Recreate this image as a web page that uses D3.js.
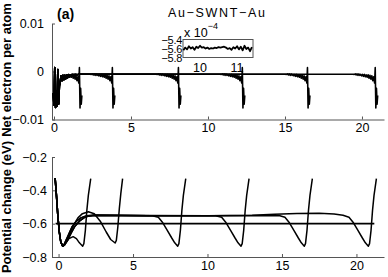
<!DOCTYPE html>
<html>
<head>
<meta charset="utf-8">
<script src="https://cdn.jsdelivr.net/npm/d3@7"></script>
<style>
  body { margin: 0; background: #fff; }
  text { font-family: "Liberation Sans", Arial, sans-serif; fill: #000; }
  .axis path, .axis line { stroke: #555; }
  .axis text { font-size: 12.5px; fill: #000; }
</style>
</head>
<body>
<div class="chart"></div>
<script>
// ---- data ----
// top panel: net electron per atom, shared edge profiles + tube end positions
const chargeEnds = [1.69, 3.83, 8.12, 12.27, 16.5, 20.9];
const chargePlateau = -5.6e-4;
const chargeLeft = [[-0.05, -0.0045], [0.0, -0.0070], [0.05, 0.0008], [0.1, -0.0075], [0.15, -0.0040],
  [0.2, -0.0072], [0.25, 0.0004], [0.3, -0.0068], [0.35, -0.0030], [0.4, -0.0022], [0.46, -0.0009],
  [0.52, -0.0019], [0.58, -0.0008], [0.64, -0.0017], [0.7, -0.0008], [0.76, -0.0015], [0.82, -0.0007],
  [0.88, -0.0013], [0.94, -0.0007], [1.0, -0.0012], [1.06, -0.0007], [1.12, -0.0010], [1.18, -0.0006],
  [1.24, -0.0009], [1.3, -0.0006], [1.36, -0.0008], [1.42, -0.0006], [1.5, -0.0007], [1.6, -0.00056]];
// dx relative to tube end
const chargeRight = [[-1.5, -0.00056], [-1.4, -0.0006], [-1.34, -0.0005], [-1.28, -0.0007], [-1.22, -0.0005],
  [-1.16, -0.0008], [-1.1, -0.0005], [-1.04, -0.0008], [-0.98, -0.0006], [-0.92, -0.0009], [-0.86, -0.0006],
  [-0.8, -0.0010], [-0.74, -0.0006], [-0.68, -0.0011], [-0.62, -0.0007], [-0.56, -0.0012], [-0.5, -0.0007],
  [-0.44, -0.0014], [-0.38, -0.0008], [-0.32, -0.0016], [-0.26, -0.0009], [-0.2, -0.0019], [-0.14, -0.0011],
  [-0.08, -0.0024], [-0.04, 0.0008], [0.0, -0.0076], [0.04, -0.0035], [0.08, -0.0068], [0.12, -0.0050]];

// inset (x 10^-4)
const insetX = [9.55, 9.60, 9.65, 9.70, 9.75, 9.80, 9.85, 9.90, 9.95, 10.00, 10.05, 10.10, 10.15, 10.20,
  10.25, 10.30, 10.35, 10.40, 10.45, 10.50, 10.55, 10.60, 10.65, 10.70, 10.75, 10.80, 10.85, 10.90,
  10.95, 11.00, 11.05, 11.10, 11.15, 11.20, 11.25, 11.30, 11.35, 11.40];
const insetY = [-5.64, -5.58, -5.62, -5.55, -5.60, -5.57, -5.63, -5.56, -5.59, -5.54, -5.58, -5.57, -5.60,
  -5.58, -5.61, -5.59, -5.60, -5.58, -5.59, -5.57, -5.58, -5.57, -5.56, -5.58, -5.61, -5.59, -5.63, -5.57,
  -5.60, -5.55, -5.62, -5.56, -5.64, -5.54, -5.61, -5.58, -5.66, -5.57];

// bottom panel: potential change (eV)
const potMins = [1.62, 3.8, 8.0, 12.25, 16.5, 20.8];
const potShort1 = [[-0.23, -0.326], [-0.15, -0.42], [-0.05, -0.55], [0.05, -0.65], [0.15, -0.71], [0.28, -0.735],
  [0.45, -0.72], [0.7, -0.69], [0.98, -0.678], [1.2, -0.69], [1.4, -0.715], [1.62, -0.735], [1.7, -0.72],
  [1.8, -0.64], [1.9, -0.52], [2.0, -0.43], [2.16, -0.33]];
const potShort2 = [[-0.23, -0.326], [-0.15, -0.42], [-0.05, -0.55], [0.05, -0.65], [0.15, -0.71], [0.28, -0.735],
  [0.4, -0.725], [0.7, -0.67], [1.0, -0.61], [1.3, -0.565], [1.6, -0.54], [2.0, -0.528], [2.4, -0.54],
  [2.8, -0.585], [3.2, -0.65], [3.5, -0.695], [3.8, -0.716], [3.88, -0.70], [3.98, -0.62], [4.08, -0.51],
  [4.18, -0.42], [4.3, -0.33]];
const potLeftA = [[-0.23, -0.326], [-0.15, -0.42], [-0.05, -0.55], [0.05, -0.65], [0.15, -0.71], [0.28, -0.735],
  [0.4, -0.728], [0.6, -0.70], [0.85, -0.655], [1.1, -0.615], [1.4, -0.585], [1.7, -0.565], [2.0, -0.555], [2.4, -0.55]];
const potLeftB = [[-0.23, -0.326], [-0.15, -0.42], [-0.05, -0.55], [0.05, -0.65], [0.15, -0.71], [0.28, -0.735],
  [0.4, -0.72], [0.6, -0.68], [0.9, -0.62], [1.2, -0.585], [1.5, -0.565], [1.9, -0.552], [2.4, -0.55]];
const potPlateau3 = [[6.3, -0.553]];
const potPlateau4 = [[6.0, -0.552], [10.55, -0.553]];
const potPlateau5 = [[6.0, -0.551], [10.0, -0.552], [14.8, -0.551]];
const potPlateau6 = [[6.0, -0.552], [10.0, -0.553], [13.0, -0.549], [14.5, -0.543], [16.0, -0.539],
  [17.5, -0.538], [18.5, -0.542], [19.1, -0.55]];
// dx relative to the minimum near the tube end
const potRight = [[-1.3, -0.562], [-1.0, -0.595], [-0.7, -0.64], [-0.4, -0.686], [-0.2, -0.715], [0, -0.735],
  [0.08, -0.72], [0.18, -0.64], [0.28, -0.52], [0.38, -0.43], [0.54, -0.33]];
const fermiLevel = [[-0.2, -0.6], [21.2, -0.6]];

const chargeTicksY = [0.01, 0, -0.01];
const potTicksY = [-0.2, -0.4, -0.6, -0.8];
const ticksX = [0, 5, 10, 15, 20];
const insetTicksX = [10, 11];
const insetTicksY = [-5.4, -5.6, -5.8];

// ---- build curves ----
const chargeCurves = chargeEnds.map(function(L, i) {
  if (i === 0) {
    return chargeLeft.filter(function(p) { return p[0] < 0.9; })
      .concat(chargeRight.filter(function(p) { return p[0] >= -0.75; }).map(function(p) { return [L + p[0], p[1]]; }));
  }
  return chargeLeft.concat([[L - 1.5, chargePlateau]])
    .concat(chargeRight.map(function(p) { return [L + p[0], p[1]]; }));
});

const plateaus = [null, null, potPlateau3, potPlateau4, potPlateau5, potPlateau6];
const potCurves = potMins.map(function(m, i) {
  if (i === 0) return potShort1;
  if (i === 1) return potShort2;
  const left = i < 4 ? potLeftA : potLeftB;
  return left.concat(plateaus[i]).concat(potRight.map(function(p) { return [m + p[0], p[1]]; }));
});

// ---- svg ----
const svg = d3.select('.chart').append('svg').attr('width', 388).attr('height', 277);

const xTop = d3.scaleLinear().domain([-0.13, 21.43]).range([52, 384]);
const yTop = d3.scaleLinear().domain([-0.01, 0.01]).range([119.5, 23.5]);
const xBot = d3.scaleLinear().domain([-0.44, 21.85]).range([52, 384]);
const yBot = d3.scaleLinear().domain([-0.8, -0.2]).range([257, 157]);

svg.append('g').attr('class', 'axis').attr('transform', 'translate(52,0)')
  .call(d3.axisLeft(yTop).tickValues(chargeTicksY).tickSizeInner(-3).tickSizeOuter(0).tickPadding(8)
    .tickFormat(function(d) { return d === 0 ? '0' : d3.format('.2f')(d); }));
svg.append('g').attr('class', 'axis').attr('transform', 'translate(0,119.5)')
  .call(d3.axisBottom(xTop).tickValues(ticksX).tickSizeInner(-3).tickSizeOuter(0).tickPadding(4));

svg.append('g').attr('class', 'axis').attr('transform', 'translate(52,0)')
  .call(d3.axisLeft(yBot).tickValues(potTicksY).tickSizeInner(-3).tickSizeOuter(0).tickPadding(5)
    .tickFormat(d3.format('.1f')));
svg.append('g').attr('class', 'axis').attr('transform', 'translate(0,257)')
  .call(d3.axisBottom(xBot).tickValues(ticksX).tickSizeInner(-3).tickSizeOuter(0).tickPadding(4));

const lineTop = d3.line().x(function(d) { return xTop(d[0]); }).y(function(d) { return yTop(d[1]); });
const lineBot = d3.line().x(function(d) { return xBot(d[0]); }).y(function(d) { return yBot(d[1]); });

svg.append('g').selectAll('path').data(chargeCurves).enter().append('path')
  .attr('d', lineTop).attr('fill', 'none').attr('stroke', '#000').attr('stroke-width', 1.6)
  .attr('stroke-linejoin', 'round');

svg.append('path').attr('d', lineBot(fermiLevel)).attr('fill', 'none')
  .attr('stroke', '#000').attr('stroke-width', 1.8);
svg.append('g').selectAll('path').data(potCurves).enter().append('path')
  .attr('d', lineBot).attr('fill', 'none').attr('stroke', '#000').attr('stroke-width', 1.5)
  .attr('stroke-linejoin', 'round');

// ---- inset ----
const xIn = d3.scaleLinear().domain([9.54, 11.43]).range([183, 253]);
const yIn = d3.scaleLinear().domain([-5.8, -5.4]).range([57.5, 39.5]);
svg.append('rect').attr('x', 183).attr('y', 39.5).attr('width', 70).attr('height', 18)
  .attr('fill', '#fff').attr('stroke', '#555');
svg.append('path').attr('d', d3.line()
    .x(function(d, i) { return xIn(insetX[i]); })
    .y(function(d) { return yIn(d); })(insetY))
  .attr('fill', 'none').attr('stroke', '#000').attr('stroke-width', 1.8).attr('stroke-linejoin', 'round');
svg.selectAll('.inY').data(insetTicksY).enter().append('text')
  .attr('x', 182).attr('y', function(d) { return yIn(d) + 1; })
  .attr('dy', '0.35em').attr('text-anchor', 'end').attr('font-size', 11).attr('letter-spacing', -0.3)
  .text(function(d) { return d3.format('.1f')(d); });
svg.selectAll('.inX').data(insetTicksX).enter().append('text')
  .attr('x', function(d) { return xIn(d); }).attr('y', 72).attr('text-anchor', 'middle')
  .attr('font-size', 12.5).attr('fill', '#000').text(function(d) { return d; });
const exp = svg.append('text').attr('x', 184).attr('y', 37).attr('font-size', 12.5);
exp.append('tspan').text('x 10');
exp.append('tspan').attr('dy', -8).attr('font-size', 9).text('−4');

// ---- titles & labels ----
svg.append('text').attr('x', 57).attr('y', 19).attr('font-size', 14).attr('font-weight', 'bold').text('(a)');
svg.append('text').attr('x', 168).attr('y', 17).attr('font-size', 12.5)
  .attr('textLength', 97).attr('lengthAdjust', 'spacing').text('Au−SWNT−Au');
svg.append('text').attr('transform', 'translate(11,70) rotate(-90)').attr('text-anchor', 'middle')
  .attr('font-size', 13).attr('font-weight', 'bold').text('Net electron per atom');
svg.append('text').attr('transform', 'translate(11,207) rotate(-90)').attr('text-anchor', 'middle')
  .attr('font-size', 13).attr('font-weight', 'bold').text('Potential change (eV)');
</script>
</body>
</html>
